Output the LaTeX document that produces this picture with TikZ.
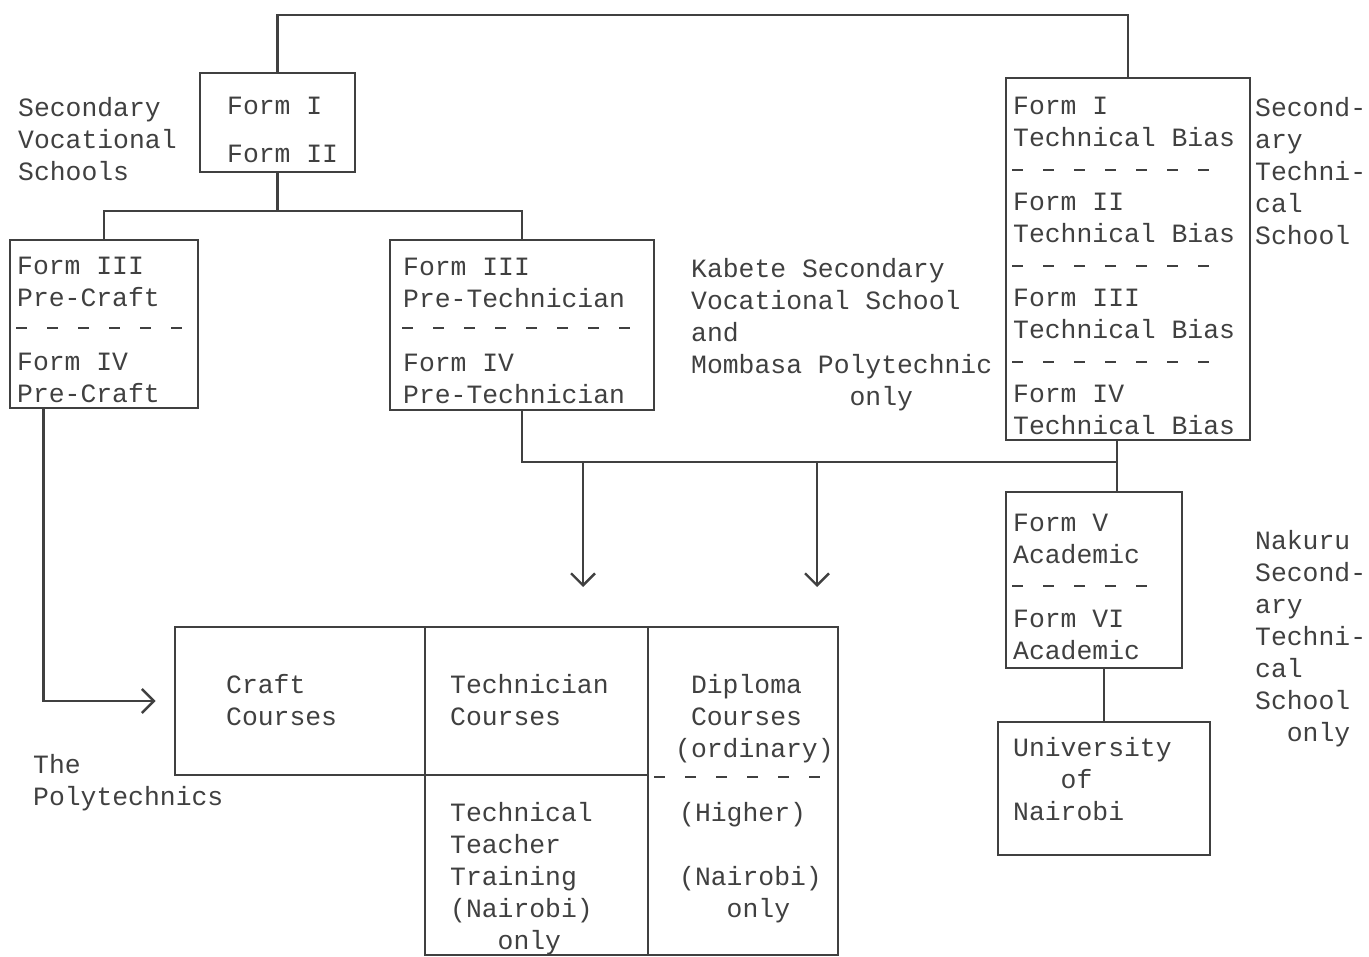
\documentclass[tikz,border=0pt]{standalone}
\usepackage{fontspec}
\setmonofont{Liberation Mono}
\usetikzlibrary{arrows.meta}
\newlength{\chw}
\setlength{\chw}{7.92pt}
\begin{document}
\begin{tikzpicture}[x=0.5pt, y=-0.5pt, color=black!75, line width=1.2pt,
	box/.style={draw, line width=1.4pt, inner sep=0pt},
	txt/.style={anchor=north west, inner sep=0pt, align=left, font=\ttfamily\fontsize{13.2}{16}\selectfont},
	sep/.style={line width=1.4pt, dash pattern=on 5.5pt off 10pt},
	arr/.style={-{Straight Barb[length=6pt,width=12pt,line width=1.2pt]}}]
	\useasboundingbox (0,0) rectangle (1369,957);
	\node[box, minimum width=77.5pt, minimum height=49.5pt] (f12) at (277.5,122.5) {};
	\node[box, minimum width=94pt, minimum height=84pt] (pc) at (104,324) {};
	\node[box, minimum width=132pt, minimum height=85pt] (pt) at (522,325) {};
	\node[box, minimum width=122pt, minimum height=181pt] (tb) at (1128,259) {};
	\node[box, minimum width=88pt, minimum height=88pt] (f56) at (1094,580) {};
	\node[box, minimum width=106pt, minimum height=66.5pt] (uni) at (1104,788.5) {};
	\node[box, minimum width=125pt, minimum height=74pt] (craft) at (300,701) {};
	\node[box, minimum width=111.5pt, minimum height=74pt] (techc) at (536.5,701) {};
	\node[box, minimum width=111.5pt, minimum height=90pt] (teach) at (536.5,865) {};
	\node[box, minimum width=95pt, minimum height=164pt] (dipl) at (743,791) {};
	\node[txt] (svlab) at (17,96) {Secondary\\Vocational\\Schools};
	\node[txt] (f12txt) at (226,96) {Form I\\[8pt]Form II};
	\node[txt] (pctxt) at (16,256) {Form III\\Pre-Craft\\[16pt]Form IV\\Pre-Craft};
	\node[txt] (pttxt) at (402,257) {Form III\\Pre-Technician\\[16pt]Form IV\\Pre-Technician};
	\node[txt] (kablab) at (690,257) {Kabete Secondary\\Vocational School\\and\\Mombasa Polytechnic\\\hspace*{10\chw}only};
	\node[txt] (tbtxt) at (1012,96) {Form I\\Technical Bias\\[16pt]Form II\\Technical Bias\\[16pt]Form III\\Technical Bias\\[16pt]Form IV\\Technical Bias};
	\node[txt] (stslab) at (1254,96) {Second-\\ary\\Techni-\\cal\\School};
	\node[txt] (f56txt) at (1012,513) {Form V\\Academic\\[16pt]Form VI\\Academic};
	\node[txt] (unitxt) at (1012,736) {University\\\hspace*{3\chw}of\\Nairobi};
	\node[txt] (naklab) at (1254,529) {Nakuru\\Second-\\ary\\Techni-\\cal\\School\\\hspace*{2\chw}only};
	\node[txt] (crafttxt) at (225,673) {Craft\\Courses};
	\node[txt] (techtxt) at (449,673) {Technician\\Courses};
	\node[txt] (diptxt) at (674,673) {\hspace*{\chw}Diploma\\\hspace*{\chw}Courses\\(ordinary)};
	\node[txt] (ttttxt) at (449,801) {Technical\\Teacher\\Training\\(Nairobi)\\\hspace*{3\chw}only};
	\node[txt] (hightxt) at (678,801) {(Higher)\\[16pt](Nairobi)\\\hspace*{3\chw}only};
	\node[txt] (polylab) at (32,753) {The\\Polytechnics};
	\coordinate (top) at (0,15);
	\coordinate (fork) at (277.5,211);
	\coordinate (join) at (1117,462);
	\coordinate (tipa) at (583,587);
	\coordinate (tipb) at (817,587);
	\draw (f12.north) -- (f12.north |- top) -| (tb.north);
	\draw (f12.south) -- (fork);
	\draw (pc.north) |- (fork) -| (pt.north);
	\draw[arr] ([xshift=17.5pt]pc.south west) |- ([xshift=-9pt]craft.west);
	\draw (pt.south) |- (join);
	\draw (tb.south -| join) -- (f56.north -| join);
	\draw[arr] (tipa |- join) -- (tipa);
	\draw[arr] (tipb |- join) -- (tipb);
	\draw (uni.north) -- (uni.north |- f56.south);
	\draw[sep] (16,328) -- (192,328);
	\draw[sep] (402,328) -- (642,328);
	\draw[sep] (1012,170) -- (1226,170);
	\draw[sep] (1012,266) -- (1226,266);
	\draw[sep] (1012,362) -- (1226,362);
	\draw[sep] (1012,586) -- (1158,586);
	\draw[sep] (654,777) -- (820,777);
\end{tikzpicture}
\end{document}
